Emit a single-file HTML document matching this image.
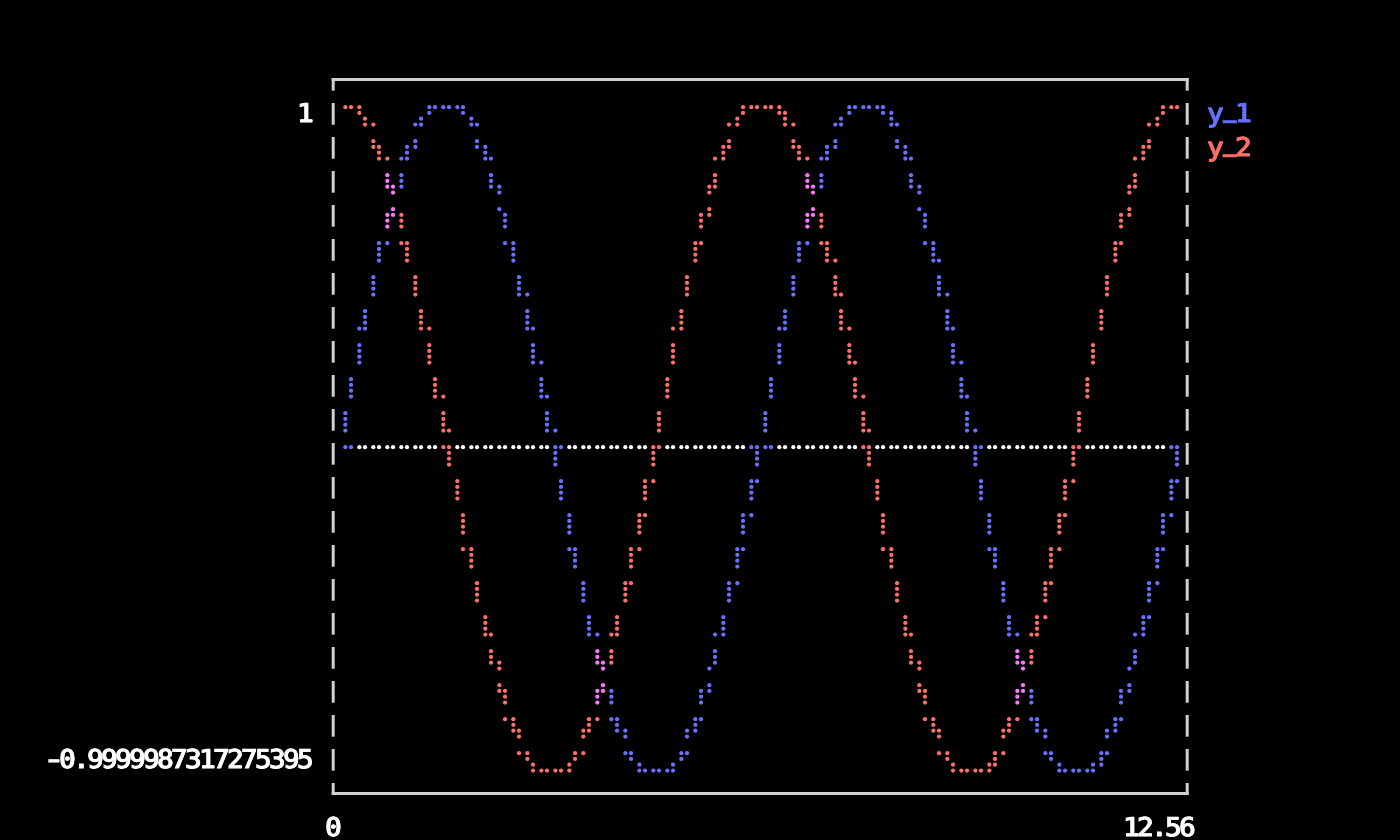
<!DOCTYPE html>
<html lang="en"><head><meta charset="utf-8"><title>plot</title>
<style>
html,body{margin:0;padding:0;background:#000;}
body{width:1400px;height:840px;overflow:hidden;position:relative;}
svg{position:absolute;left:0;top:0;}
.t{position:absolute;white-space:pre;font-family:"DejaVu Sans Mono","Liberation Mono",monospace;font-weight:normal;font-size:25.8px;letter-spacing:-2.3874px;-webkit-text-stroke:1.1px currentColor;text-shadow:0.6px 0 0 currentColor;transform:scale(1.065,1);transform-origin:0 26px;line-height:34px;height:34px;color:#fff;text-rendering:geometricPrecision;}
.u{position:relative;top:-3.6px;left:2px;font-weight:bold;font-size:20.2px;letter-spacing:0.9841px;line-height:0;-webkit-text-stroke:1.2px currentColor;text-shadow:none;}
.h{display:inline-block;transform:translateX(0.55px) scaleX(1.34);transform-origin:7.97px 50%;}
</style></head><body>
<svg width="1400" height="840" viewBox="0 0 1400 840"><g fill="#ffffff"><circle cx="359.35" cy="447.20" r="2.12"/><circle cx="365.02" cy="447.20" r="2.12"/><circle cx="373.35" cy="447.20" r="2.12"/><circle cx="379.02" cy="447.20" r="2.12"/><circle cx="387.35" cy="447.20" r="2.12"/><circle cx="393.02" cy="447.20" r="2.12"/><circle cx="401.35" cy="447.20" r="2.12"/><circle cx="407.02" cy="447.20" r="2.12"/><circle cx="415.35" cy="447.20" r="2.12"/><circle cx="421.02" cy="447.20" r="2.12"/><circle cx="429.35" cy="447.20" r="2.12"/><circle cx="435.02" cy="447.20" r="2.12"/><circle cx="457.35" cy="447.20" r="2.12"/><circle cx="463.02" cy="447.20" r="2.12"/><circle cx="471.35" cy="447.20" r="2.12"/><circle cx="477.02" cy="447.20" r="2.12"/><circle cx="485.35" cy="447.20" r="2.12"/><circle cx="491.02" cy="447.20" r="2.12"/><circle cx="499.35" cy="447.20" r="2.12"/><circle cx="505.02" cy="447.20" r="2.12"/><circle cx="513.35" cy="447.20" r="2.12"/><circle cx="519.02" cy="447.20" r="2.12"/><circle cx="527.35" cy="447.20" r="2.12"/><circle cx="533.02" cy="447.20" r="2.12"/><circle cx="541.35" cy="447.20" r="2.12"/><circle cx="547.02" cy="447.20" r="2.12"/><circle cx="569.35" cy="447.20" r="2.12"/><circle cx="575.02" cy="447.20" r="2.12"/><circle cx="583.35" cy="447.20" r="2.12"/><circle cx="589.02" cy="447.20" r="2.12"/><circle cx="597.35" cy="447.20" r="2.12"/><circle cx="603.02" cy="447.20" r="2.12"/><circle cx="611.35" cy="447.20" r="2.12"/><circle cx="617.02" cy="447.20" r="2.12"/><circle cx="625.35" cy="447.20" r="2.12"/><circle cx="631.02" cy="447.20" r="2.12"/><circle cx="639.35" cy="447.20" r="2.12"/><circle cx="645.02" cy="447.20" r="2.12"/><circle cx="667.35" cy="447.20" r="2.12"/><circle cx="673.02" cy="447.20" r="2.12"/><circle cx="681.35" cy="447.20" r="2.12"/><circle cx="687.02" cy="447.20" r="2.12"/><circle cx="695.35" cy="447.20" r="2.12"/><circle cx="701.02" cy="447.20" r="2.12"/><circle cx="709.35" cy="447.20" r="2.12"/><circle cx="715.02" cy="447.20" r="2.12"/><circle cx="723.35" cy="447.20" r="2.12"/><circle cx="729.02" cy="447.20" r="2.12"/><circle cx="737.35" cy="447.20" r="2.12"/><circle cx="743.02" cy="447.20" r="2.12"/><circle cx="779.35" cy="447.20" r="2.12"/><circle cx="785.02" cy="447.20" r="2.12"/><circle cx="793.35" cy="447.20" r="2.12"/><circle cx="799.02" cy="447.20" r="2.12"/><circle cx="807.35" cy="447.20" r="2.12"/><circle cx="813.02" cy="447.20" r="2.12"/><circle cx="821.35" cy="447.20" r="2.12"/><circle cx="827.02" cy="447.20" r="2.12"/><circle cx="835.35" cy="447.20" r="2.12"/><circle cx="841.02" cy="447.20" r="2.12"/><circle cx="849.35" cy="447.20" r="2.12"/><circle cx="855.02" cy="447.20" r="2.12"/><circle cx="877.35" cy="447.20" r="2.12"/><circle cx="883.02" cy="447.20" r="2.12"/><circle cx="891.35" cy="447.20" r="2.12"/><circle cx="897.02" cy="447.20" r="2.12"/><circle cx="905.35" cy="447.20" r="2.12"/><circle cx="911.02" cy="447.20" r="2.12"/><circle cx="919.35" cy="447.20" r="2.12"/><circle cx="925.02" cy="447.20" r="2.12"/><circle cx="933.35" cy="447.20" r="2.12"/><circle cx="939.02" cy="447.20" r="2.12"/><circle cx="947.35" cy="447.20" r="2.12"/><circle cx="953.02" cy="447.20" r="2.12"/><circle cx="961.35" cy="447.20" r="2.12"/><circle cx="967.02" cy="447.20" r="2.12"/><circle cx="989.35" cy="447.20" r="2.12"/><circle cx="995.02" cy="447.20" r="2.12"/><circle cx="1003.35" cy="447.20" r="2.12"/><circle cx="1009.02" cy="447.20" r="2.12"/><circle cx="1017.35" cy="447.20" r="2.12"/><circle cx="1023.02" cy="447.20" r="2.12"/><circle cx="1031.35" cy="447.20" r="2.12"/><circle cx="1037.02" cy="447.20" r="2.12"/><circle cx="1045.35" cy="447.20" r="2.12"/><circle cx="1051.02" cy="447.20" r="2.12"/><circle cx="1059.35" cy="447.20" r="2.12"/><circle cx="1065.02" cy="447.20" r="2.12"/><circle cx="1087.35" cy="447.20" r="2.12"/><circle cx="1093.02" cy="447.20" r="2.12"/><circle cx="1101.35" cy="447.20" r="2.12"/><circle cx="1107.02" cy="447.20" r="2.12"/><circle cx="1115.35" cy="447.20" r="2.12"/><circle cx="1121.02" cy="447.20" r="2.12"/><circle cx="1129.35" cy="447.20" r="2.12"/><circle cx="1135.02" cy="447.20" r="2.12"/><circle cx="1143.35" cy="447.20" r="2.12"/><circle cx="1149.02" cy="447.20" r="2.12"/><circle cx="1157.35" cy="447.20" r="2.12"/><circle cx="1163.02" cy="447.20" r="2.12"/></g><g fill="#6871ff"><circle cx="415.35" cy="124.51" r="2.12"/><circle cx="421.02" cy="118.74" r="2.12"/><circle cx="421.02" cy="124.51" r="2.12"/><circle cx="429.35" cy="107.20" r="2.12"/><circle cx="429.35" cy="112.97" r="2.12"/><circle cx="435.02" cy="107.20" r="2.12"/><circle cx="443.35" cy="107.20" r="2.12"/><circle cx="449.02" cy="107.20" r="2.12"/><circle cx="457.35" cy="107.20" r="2.12"/><circle cx="463.02" cy="107.20" r="2.12"/><circle cx="463.02" cy="112.97" r="2.12"/><circle cx="471.35" cy="118.74" r="2.12"/><circle cx="471.35" cy="124.51" r="2.12"/><circle cx="477.02" cy="124.51" r="2.12"/><circle cx="835.35" cy="124.51" r="2.12"/><circle cx="841.02" cy="118.74" r="2.12"/><circle cx="841.02" cy="124.51" r="2.12"/><circle cx="849.35" cy="107.20" r="2.12"/><circle cx="849.35" cy="112.97" r="2.12"/><circle cx="855.02" cy="107.20" r="2.12"/><circle cx="863.35" cy="107.20" r="2.12"/><circle cx="869.02" cy="107.20" r="2.12"/><circle cx="877.35" cy="107.20" r="2.12"/><circle cx="883.02" cy="107.20" r="2.12"/><circle cx="883.02" cy="112.97" r="2.12"/><circle cx="891.35" cy="112.97" r="2.12"/><circle cx="891.35" cy="118.74" r="2.12"/><circle cx="891.35" cy="124.51" r="2.12"/><circle cx="897.02" cy="124.51" r="2.12"/><circle cx="401.35" cy="158.51" r="2.12"/><circle cx="407.02" cy="146.97" r="2.12"/><circle cx="407.02" cy="152.74" r="2.12"/><circle cx="407.02" cy="158.51" r="2.12"/><circle cx="415.35" cy="141.20" r="2.12"/><circle cx="415.35" cy="146.97" r="2.12"/><circle cx="477.02" cy="141.20" r="2.12"/><circle cx="477.02" cy="146.97" r="2.12"/><circle cx="485.35" cy="146.97" r="2.12"/><circle cx="485.35" cy="152.74" r="2.12"/><circle cx="485.35" cy="158.51" r="2.12"/><circle cx="491.02" cy="158.51" r="2.12"/><circle cx="821.35" cy="158.51" r="2.12"/><circle cx="827.02" cy="146.97" r="2.12"/><circle cx="827.02" cy="152.74" r="2.12"/><circle cx="827.02" cy="158.51" r="2.12"/><circle cx="835.35" cy="141.20" r="2.12"/><circle cx="835.35" cy="146.97" r="2.12"/><circle cx="897.02" cy="141.20" r="2.12"/><circle cx="897.02" cy="146.97" r="2.12"/><circle cx="905.35" cy="146.97" r="2.12"/><circle cx="905.35" cy="152.74" r="2.12"/><circle cx="905.35" cy="158.51" r="2.12"/><circle cx="911.02" cy="158.51" r="2.12"/><circle cx="401.35" cy="175.20" r="2.12"/><circle cx="401.35" cy="180.97" r="2.12"/><circle cx="401.35" cy="186.74" r="2.12"/><circle cx="491.02" cy="175.20" r="2.12"/><circle cx="491.02" cy="180.97" r="2.12"/><circle cx="491.02" cy="186.74" r="2.12"/><circle cx="499.35" cy="186.74" r="2.12"/><circle cx="499.35" cy="192.51" r="2.12"/><circle cx="821.35" cy="175.20" r="2.12"/><circle cx="821.35" cy="180.97" r="2.12"/><circle cx="821.35" cy="186.74" r="2.12"/><circle cx="911.02" cy="175.20" r="2.12"/><circle cx="911.02" cy="180.97" r="2.12"/><circle cx="911.02" cy="186.74" r="2.12"/><circle cx="919.35" cy="186.74" r="2.12"/><circle cx="919.35" cy="192.51" r="2.12"/><circle cx="499.35" cy="209.20" r="2.12"/><circle cx="505.02" cy="214.97" r="2.12"/><circle cx="505.02" cy="220.74" r="2.12"/><circle cx="505.02" cy="226.51" r="2.12"/><circle cx="919.35" cy="209.20" r="2.12"/><circle cx="925.02" cy="214.97" r="2.12"/><circle cx="925.02" cy="220.74" r="2.12"/><circle cx="925.02" cy="226.51" r="2.12"/><circle cx="379.02" cy="243.20" r="2.12"/><circle cx="379.02" cy="248.97" r="2.12"/><circle cx="379.02" cy="254.74" r="2.12"/><circle cx="379.02" cy="260.51" r="2.12"/><circle cx="387.35" cy="243.20" r="2.12"/><circle cx="505.02" cy="243.20" r="2.12"/><circle cx="513.35" cy="243.20" r="2.12"/><circle cx="513.35" cy="248.97" r="2.12"/><circle cx="513.35" cy="254.74" r="2.12"/><circle cx="513.35" cy="260.51" r="2.12"/><circle cx="799.02" cy="243.20" r="2.12"/><circle cx="799.02" cy="248.97" r="2.12"/><circle cx="799.02" cy="254.74" r="2.12"/><circle cx="799.02" cy="260.51" r="2.12"/><circle cx="807.35" cy="243.20" r="2.12"/><circle cx="925.02" cy="243.20" r="2.12"/><circle cx="933.35" cy="243.20" r="2.12"/><circle cx="933.35" cy="248.97" r="2.12"/><circle cx="933.35" cy="254.74" r="2.12"/><circle cx="933.35" cy="260.51" r="2.12"/><circle cx="939.02" cy="260.51" r="2.12"/><circle cx="373.35" cy="277.20" r="2.12"/><circle cx="373.35" cy="282.97" r="2.12"/><circle cx="373.35" cy="288.74" r="2.12"/><circle cx="373.35" cy="294.51" r="2.12"/><circle cx="519.02" cy="277.20" r="2.12"/><circle cx="519.02" cy="282.97" r="2.12"/><circle cx="519.02" cy="288.74" r="2.12"/><circle cx="519.02" cy="294.51" r="2.12"/><circle cx="527.35" cy="294.51" r="2.12"/><circle cx="793.35" cy="277.20" r="2.12"/><circle cx="793.35" cy="282.97" r="2.12"/><circle cx="793.35" cy="288.74" r="2.12"/><circle cx="793.35" cy="294.51" r="2.12"/><circle cx="939.02" cy="277.20" r="2.12"/><circle cx="939.02" cy="282.97" r="2.12"/><circle cx="939.02" cy="288.74" r="2.12"/><circle cx="939.02" cy="294.51" r="2.12"/><circle cx="947.35" cy="294.51" r="2.12"/><circle cx="359.35" cy="328.51" r="2.12"/><circle cx="365.02" cy="311.20" r="2.12"/><circle cx="365.02" cy="316.97" r="2.12"/><circle cx="365.02" cy="322.74" r="2.12"/><circle cx="365.02" cy="328.51" r="2.12"/><circle cx="527.35" cy="311.20" r="2.12"/><circle cx="527.35" cy="316.97" r="2.12"/><circle cx="527.35" cy="322.74" r="2.12"/><circle cx="527.35" cy="328.51" r="2.12"/><circle cx="533.02" cy="328.51" r="2.12"/><circle cx="779.35" cy="328.51" r="2.12"/><circle cx="785.02" cy="311.20" r="2.12"/><circle cx="785.02" cy="316.97" r="2.12"/><circle cx="785.02" cy="322.74" r="2.12"/><circle cx="785.02" cy="328.51" r="2.12"/><circle cx="947.35" cy="311.20" r="2.12"/><circle cx="947.35" cy="316.97" r="2.12"/><circle cx="947.35" cy="322.74" r="2.12"/><circle cx="947.35" cy="328.51" r="2.12"/><circle cx="953.02" cy="328.51" r="2.12"/><circle cx="359.35" cy="345.20" r="2.12"/><circle cx="359.35" cy="350.97" r="2.12"/><circle cx="359.35" cy="356.74" r="2.12"/><circle cx="359.35" cy="362.51" r="2.12"/><circle cx="533.02" cy="345.20" r="2.12"/><circle cx="533.02" cy="350.97" r="2.12"/><circle cx="533.02" cy="356.74" r="2.12"/><circle cx="533.02" cy="362.51" r="2.12"/><circle cx="541.35" cy="362.51" r="2.12"/><circle cx="779.35" cy="345.20" r="2.12"/><circle cx="779.35" cy="350.97" r="2.12"/><circle cx="779.35" cy="356.74" r="2.12"/><circle cx="779.35" cy="362.51" r="2.12"/><circle cx="953.02" cy="345.20" r="2.12"/><circle cx="953.02" cy="350.97" r="2.12"/><circle cx="953.02" cy="356.74" r="2.12"/><circle cx="953.02" cy="362.51" r="2.12"/><circle cx="961.35" cy="362.51" r="2.12"/><circle cx="351.02" cy="379.20" r="2.12"/><circle cx="351.02" cy="384.97" r="2.12"/><circle cx="351.02" cy="390.74" r="2.12"/><circle cx="351.02" cy="396.51" r="2.12"/><circle cx="541.35" cy="379.20" r="2.12"/><circle cx="541.35" cy="384.97" r="2.12"/><circle cx="541.35" cy="390.74" r="2.12"/><circle cx="541.35" cy="396.51" r="2.12"/><circle cx="547.02" cy="396.51" r="2.12"/><circle cx="771.02" cy="379.20" r="2.12"/><circle cx="771.02" cy="384.97" r="2.12"/><circle cx="771.02" cy="390.74" r="2.12"/><circle cx="771.02" cy="396.51" r="2.12"/><circle cx="961.35" cy="379.20" r="2.12"/><circle cx="961.35" cy="384.97" r="2.12"/><circle cx="961.35" cy="390.74" r="2.12"/><circle cx="961.35" cy="396.51" r="2.12"/><circle cx="967.02" cy="396.51" r="2.12"/><circle cx="345.35" cy="413.20" r="2.12"/><circle cx="345.35" cy="418.97" r="2.12"/><circle cx="345.35" cy="424.74" r="2.12"/><circle cx="345.35" cy="430.51" r="2.12"/><circle cx="547.02" cy="413.20" r="2.12"/><circle cx="547.02" cy="418.97" r="2.12"/><circle cx="547.02" cy="424.74" r="2.12"/><circle cx="547.02" cy="430.51" r="2.12"/><circle cx="555.35" cy="430.51" r="2.12"/><circle cx="765.35" cy="413.20" r="2.12"/><circle cx="765.35" cy="418.97" r="2.12"/><circle cx="765.35" cy="424.74" r="2.12"/><circle cx="765.35" cy="430.51" r="2.12"/><circle cx="967.02" cy="413.20" r="2.12"/><circle cx="967.02" cy="418.97" r="2.12"/><circle cx="967.02" cy="424.74" r="2.12"/><circle cx="967.02" cy="430.51" r="2.12"/><circle cx="975.35" cy="430.51" r="2.12"/><circle cx="345.35" cy="447.20" r="2.12"/><circle cx="351.02" cy="447.20" r="2.12"/><circle cx="555.35" cy="447.20" r="2.12"/><circle cx="555.35" cy="452.97" r="2.12"/><circle cx="555.35" cy="458.74" r="2.12"/><circle cx="555.35" cy="464.51" r="2.12"/><circle cx="561.02" cy="447.20" r="2.12"/><circle cx="751.35" cy="447.20" r="2.12"/><circle cx="757.02" cy="447.20" r="2.12"/><circle cx="757.02" cy="452.97" r="2.12"/><circle cx="757.02" cy="458.74" r="2.12"/><circle cx="757.02" cy="464.51" r="2.12"/><circle cx="765.35" cy="447.20" r="2.12"/><circle cx="771.02" cy="447.20" r="2.12"/><circle cx="975.35" cy="447.20" r="2.12"/><circle cx="975.35" cy="452.97" r="2.12"/><circle cx="975.35" cy="458.74" r="2.12"/><circle cx="975.35" cy="464.51" r="2.12"/><circle cx="981.02" cy="447.20" r="2.12"/><circle cx="1171.35" cy="447.20" r="2.12"/><circle cx="1177.02" cy="447.20" r="2.12"/><circle cx="1177.02" cy="452.97" r="2.12"/><circle cx="1177.02" cy="458.74" r="2.12"/><circle cx="1177.02" cy="464.51" r="2.12"/><circle cx="561.02" cy="481.20" r="2.12"/><circle cx="561.02" cy="486.97" r="2.12"/><circle cx="561.02" cy="492.74" r="2.12"/><circle cx="561.02" cy="498.51" r="2.12"/><circle cx="751.35" cy="481.20" r="2.12"/><circle cx="751.35" cy="486.97" r="2.12"/><circle cx="751.35" cy="492.74" r="2.12"/><circle cx="751.35" cy="498.51" r="2.12"/><circle cx="757.02" cy="481.20" r="2.12"/><circle cx="981.02" cy="481.20" r="2.12"/><circle cx="981.02" cy="486.97" r="2.12"/><circle cx="981.02" cy="492.74" r="2.12"/><circle cx="981.02" cy="498.51" r="2.12"/><circle cx="1171.35" cy="481.20" r="2.12"/><circle cx="1171.35" cy="486.97" r="2.12"/><circle cx="1171.35" cy="492.74" r="2.12"/><circle cx="1171.35" cy="498.51" r="2.12"/><circle cx="1177.02" cy="481.20" r="2.12"/><circle cx="569.35" cy="515.20" r="2.12"/><circle cx="569.35" cy="520.97" r="2.12"/><circle cx="569.35" cy="526.74" r="2.12"/><circle cx="569.35" cy="532.51" r="2.12"/><circle cx="743.02" cy="515.20" r="2.12"/><circle cx="743.02" cy="520.97" r="2.12"/><circle cx="743.02" cy="526.74" r="2.12"/><circle cx="743.02" cy="532.51" r="2.12"/><circle cx="751.35" cy="515.20" r="2.12"/><circle cx="989.35" cy="515.20" r="2.12"/><circle cx="989.35" cy="520.97" r="2.12"/><circle cx="989.35" cy="526.74" r="2.12"/><circle cx="989.35" cy="532.51" r="2.12"/><circle cx="1163.02" cy="515.20" r="2.12"/><circle cx="1163.02" cy="520.97" r="2.12"/><circle cx="1163.02" cy="526.74" r="2.12"/><circle cx="1163.02" cy="532.51" r="2.12"/><circle cx="1171.35" cy="515.20" r="2.12"/><circle cx="569.35" cy="549.20" r="2.12"/><circle cx="575.02" cy="549.20" r="2.12"/><circle cx="575.02" cy="554.97" r="2.12"/><circle cx="575.02" cy="560.74" r="2.12"/><circle cx="575.02" cy="566.51" r="2.12"/><circle cx="737.35" cy="549.20" r="2.12"/><circle cx="737.35" cy="554.97" r="2.12"/><circle cx="737.35" cy="560.74" r="2.12"/><circle cx="737.35" cy="566.51" r="2.12"/><circle cx="743.02" cy="549.20" r="2.12"/><circle cx="989.35" cy="549.20" r="2.12"/><circle cx="995.02" cy="549.20" r="2.12"/><circle cx="995.02" cy="554.97" r="2.12"/><circle cx="995.02" cy="560.74" r="2.12"/><circle cx="995.02" cy="566.51" r="2.12"/><circle cx="1157.35" cy="549.20" r="2.12"/><circle cx="1157.35" cy="554.97" r="2.12"/><circle cx="1157.35" cy="560.74" r="2.12"/><circle cx="1157.35" cy="566.51" r="2.12"/><circle cx="1163.02" cy="549.20" r="2.12"/><circle cx="583.35" cy="583.20" r="2.12"/><circle cx="583.35" cy="588.97" r="2.12"/><circle cx="583.35" cy="594.74" r="2.12"/><circle cx="583.35" cy="600.51" r="2.12"/><circle cx="729.02" cy="583.20" r="2.12"/><circle cx="729.02" cy="588.97" r="2.12"/><circle cx="729.02" cy="594.74" r="2.12"/><circle cx="729.02" cy="600.51" r="2.12"/><circle cx="737.35" cy="583.20" r="2.12"/><circle cx="1003.35" cy="583.20" r="2.12"/><circle cx="1003.35" cy="588.97" r="2.12"/><circle cx="1003.35" cy="594.74" r="2.12"/><circle cx="1003.35" cy="600.51" r="2.12"/><circle cx="1149.02" cy="583.20" r="2.12"/><circle cx="1149.02" cy="588.97" r="2.12"/><circle cx="1149.02" cy="594.74" r="2.12"/><circle cx="1149.02" cy="600.51" r="2.12"/><circle cx="1157.35" cy="583.20" r="2.12"/><circle cx="589.02" cy="617.20" r="2.12"/><circle cx="589.02" cy="622.97" r="2.12"/><circle cx="589.02" cy="628.74" r="2.12"/><circle cx="589.02" cy="634.51" r="2.12"/><circle cx="597.35" cy="634.51" r="2.12"/><circle cx="715.02" cy="634.51" r="2.12"/><circle cx="723.35" cy="617.20" r="2.12"/><circle cx="723.35" cy="622.97" r="2.12"/><circle cx="723.35" cy="628.74" r="2.12"/><circle cx="723.35" cy="634.51" r="2.12"/><circle cx="1009.02" cy="617.20" r="2.12"/><circle cx="1009.02" cy="622.97" r="2.12"/><circle cx="1009.02" cy="628.74" r="2.12"/><circle cx="1009.02" cy="634.51" r="2.12"/><circle cx="1017.35" cy="634.51" r="2.12"/><circle cx="1135.02" cy="634.51" r="2.12"/><circle cx="1143.35" cy="617.20" r="2.12"/><circle cx="1143.35" cy="622.97" r="2.12"/><circle cx="1143.35" cy="628.74" r="2.12"/><circle cx="1143.35" cy="634.51" r="2.12"/><circle cx="1149.02" cy="617.20" r="2.12"/><circle cx="709.35" cy="668.51" r="2.12"/><circle cx="715.02" cy="651.20" r="2.12"/><circle cx="715.02" cy="656.97" r="2.12"/><circle cx="715.02" cy="662.74" r="2.12"/><circle cx="1129.35" cy="668.51" r="2.12"/><circle cx="1135.02" cy="651.20" r="2.12"/><circle cx="1135.02" cy="656.97" r="2.12"/><circle cx="1135.02" cy="662.74" r="2.12"/><circle cx="611.35" cy="690.97" r="2.12"/><circle cx="611.35" cy="696.74" r="2.12"/><circle cx="611.35" cy="702.51" r="2.12"/><circle cx="701.02" cy="690.97" r="2.12"/><circle cx="701.02" cy="696.74" r="2.12"/><circle cx="701.02" cy="702.51" r="2.12"/><circle cx="709.35" cy="685.20" r="2.12"/><circle cx="709.35" cy="690.97" r="2.12"/><circle cx="1031.35" cy="690.97" r="2.12"/><circle cx="1031.35" cy="696.74" r="2.12"/><circle cx="1031.35" cy="702.51" r="2.12"/><circle cx="1121.02" cy="690.97" r="2.12"/><circle cx="1121.02" cy="696.74" r="2.12"/><circle cx="1121.02" cy="702.51" r="2.12"/><circle cx="1129.35" cy="685.20" r="2.12"/><circle cx="1129.35" cy="690.97" r="2.12"/><circle cx="611.35" cy="719.20" r="2.12"/><circle cx="617.02" cy="719.20" r="2.12"/><circle cx="617.02" cy="724.97" r="2.12"/><circle cx="617.02" cy="730.74" r="2.12"/><circle cx="625.35" cy="730.74" r="2.12"/><circle cx="625.35" cy="736.51" r="2.12"/><circle cx="687.02" cy="730.74" r="2.12"/><circle cx="687.02" cy="736.51" r="2.12"/><circle cx="695.35" cy="719.20" r="2.12"/><circle cx="695.35" cy="724.97" r="2.12"/><circle cx="695.35" cy="730.74" r="2.12"/><circle cx="701.02" cy="719.20" r="2.12"/><circle cx="1031.35" cy="719.20" r="2.12"/><circle cx="1037.02" cy="719.20" r="2.12"/><circle cx="1037.02" cy="724.97" r="2.12"/><circle cx="1037.02" cy="730.74" r="2.12"/><circle cx="1045.35" cy="730.74" r="2.12"/><circle cx="1045.35" cy="736.51" r="2.12"/><circle cx="1107.02" cy="730.74" r="2.12"/><circle cx="1107.02" cy="736.51" r="2.12"/><circle cx="1115.35" cy="719.20" r="2.12"/><circle cx="1115.35" cy="724.97" r="2.12"/><circle cx="1115.35" cy="730.74" r="2.12"/><circle cx="1121.02" cy="719.20" r="2.12"/><circle cx="625.35" cy="753.20" r="2.12"/><circle cx="631.02" cy="753.20" r="2.12"/><circle cx="631.02" cy="758.97" r="2.12"/><circle cx="639.35" cy="764.74" r="2.12"/><circle cx="639.35" cy="770.51" r="2.12"/><circle cx="645.02" cy="770.51" r="2.12"/><circle cx="653.35" cy="770.51" r="2.12"/><circle cx="659.02" cy="770.51" r="2.12"/><circle cx="667.35" cy="770.51" r="2.12"/><circle cx="673.02" cy="764.74" r="2.12"/><circle cx="673.02" cy="770.51" r="2.12"/><circle cx="681.35" cy="753.20" r="2.12"/><circle cx="681.35" cy="758.97" r="2.12"/><circle cx="687.02" cy="753.20" r="2.12"/><circle cx="1045.35" cy="753.20" r="2.12"/><circle cx="1051.02" cy="753.20" r="2.12"/><circle cx="1051.02" cy="758.97" r="2.12"/><circle cx="1059.35" cy="764.74" r="2.12"/><circle cx="1059.35" cy="770.51" r="2.12"/><circle cx="1065.02" cy="770.51" r="2.12"/><circle cx="1073.35" cy="770.51" r="2.12"/><circle cx="1079.02" cy="770.51" r="2.12"/><circle cx="1087.35" cy="770.51" r="2.12"/><circle cx="1093.02" cy="764.74" r="2.12"/><circle cx="1093.02" cy="770.51" r="2.12"/><circle cx="1101.35" cy="753.20" r="2.12"/><circle cx="1101.35" cy="758.97" r="2.12"/><circle cx="1101.35" cy="764.74" r="2.12"/><circle cx="1107.02" cy="753.20" r="2.12"/></g><g fill="#ff6e67"><circle cx="345.35" cy="107.20" r="2.12"/><circle cx="351.02" cy="107.20" r="2.12"/><circle cx="359.35" cy="107.20" r="2.12"/><circle cx="359.35" cy="112.97" r="2.12"/><circle cx="365.02" cy="118.74" r="2.12"/><circle cx="365.02" cy="124.51" r="2.12"/><circle cx="373.35" cy="124.51" r="2.12"/><circle cx="729.02" cy="124.51" r="2.12"/><circle cx="737.35" cy="118.74" r="2.12"/><circle cx="737.35" cy="124.51" r="2.12"/><circle cx="743.02" cy="107.20" r="2.12"/><circle cx="743.02" cy="112.97" r="2.12"/><circle cx="751.35" cy="107.20" r="2.12"/><circle cx="757.02" cy="107.20" r="2.12"/><circle cx="765.35" cy="107.20" r="2.12"/><circle cx="771.02" cy="107.20" r="2.12"/><circle cx="779.35" cy="107.20" r="2.12"/><circle cx="779.35" cy="112.97" r="2.12"/><circle cx="785.02" cy="112.97" r="2.12"/><circle cx="785.02" cy="118.74" r="2.12"/><circle cx="785.02" cy="124.51" r="2.12"/><circle cx="793.35" cy="124.51" r="2.12"/><circle cx="1149.02" cy="124.51" r="2.12"/><circle cx="1157.35" cy="118.74" r="2.12"/><circle cx="1157.35" cy="124.51" r="2.12"/><circle cx="1163.02" cy="107.20" r="2.12"/><circle cx="1163.02" cy="112.97" r="2.12"/><circle cx="1171.35" cy="107.20" r="2.12"/><circle cx="1177.02" cy="107.20" r="2.12"/><circle cx="373.35" cy="141.20" r="2.12"/><circle cx="373.35" cy="146.97" r="2.12"/><circle cx="379.02" cy="146.97" r="2.12"/><circle cx="379.02" cy="152.74" r="2.12"/><circle cx="379.02" cy="158.51" r="2.12"/><circle cx="387.35" cy="158.51" r="2.12"/><circle cx="715.02" cy="158.51" r="2.12"/><circle cx="723.35" cy="146.97" r="2.12"/><circle cx="723.35" cy="152.74" r="2.12"/><circle cx="723.35" cy="158.51" r="2.12"/><circle cx="729.02" cy="141.20" r="2.12"/><circle cx="729.02" cy="146.97" r="2.12"/><circle cx="793.35" cy="141.20" r="2.12"/><circle cx="793.35" cy="146.97" r="2.12"/><circle cx="799.02" cy="146.97" r="2.12"/><circle cx="799.02" cy="152.74" r="2.12"/><circle cx="799.02" cy="158.51" r="2.12"/><circle cx="807.35" cy="158.51" r="2.12"/><circle cx="1135.02" cy="158.51" r="2.12"/><circle cx="1143.35" cy="146.97" r="2.12"/><circle cx="1143.35" cy="152.74" r="2.12"/><circle cx="1143.35" cy="158.51" r="2.12"/><circle cx="1149.02" cy="141.20" r="2.12"/><circle cx="1149.02" cy="146.97" r="2.12"/><circle cx="709.35" cy="186.74" r="2.12"/><circle cx="709.35" cy="192.51" r="2.12"/><circle cx="715.02" cy="175.20" r="2.12"/><circle cx="715.02" cy="180.97" r="2.12"/><circle cx="715.02" cy="186.74" r="2.12"/><circle cx="1129.35" cy="186.74" r="2.12"/><circle cx="1129.35" cy="192.51" r="2.12"/><circle cx="1135.02" cy="175.20" r="2.12"/><circle cx="1135.02" cy="180.97" r="2.12"/><circle cx="1135.02" cy="186.74" r="2.12"/><circle cx="401.35" cy="214.97" r="2.12"/><circle cx="401.35" cy="220.74" r="2.12"/><circle cx="401.35" cy="226.51" r="2.12"/><circle cx="701.02" cy="214.97" r="2.12"/><circle cx="701.02" cy="220.74" r="2.12"/><circle cx="701.02" cy="226.51" r="2.12"/><circle cx="709.35" cy="209.20" r="2.12"/><circle cx="709.35" cy="214.97" r="2.12"/><circle cx="821.35" cy="214.97" r="2.12"/><circle cx="821.35" cy="220.74" r="2.12"/><circle cx="821.35" cy="226.51" r="2.12"/><circle cx="1121.02" cy="214.97" r="2.12"/><circle cx="1121.02" cy="220.74" r="2.12"/><circle cx="1121.02" cy="226.51" r="2.12"/><circle cx="1129.35" cy="209.20" r="2.12"/><circle cx="1129.35" cy="214.97" r="2.12"/><circle cx="401.35" cy="243.20" r="2.12"/><circle cx="407.02" cy="243.20" r="2.12"/><circle cx="407.02" cy="248.97" r="2.12"/><circle cx="407.02" cy="254.74" r="2.12"/><circle cx="407.02" cy="260.51" r="2.12"/><circle cx="695.35" cy="243.20" r="2.12"/><circle cx="695.35" cy="248.97" r="2.12"/><circle cx="695.35" cy="254.74" r="2.12"/><circle cx="695.35" cy="260.51" r="2.12"/><circle cx="701.02" cy="243.20" r="2.12"/><circle cx="821.35" cy="243.20" r="2.12"/><circle cx="827.02" cy="243.20" r="2.12"/><circle cx="827.02" cy="248.97" r="2.12"/><circle cx="827.02" cy="254.74" r="2.12"/><circle cx="827.02" cy="260.51" r="2.12"/><circle cx="835.35" cy="260.51" r="2.12"/><circle cx="1115.35" cy="243.20" r="2.12"/><circle cx="1115.35" cy="248.97" r="2.12"/><circle cx="1115.35" cy="254.74" r="2.12"/><circle cx="1115.35" cy="260.51" r="2.12"/><circle cx="1121.02" cy="243.20" r="2.12"/><circle cx="415.35" cy="277.20" r="2.12"/><circle cx="415.35" cy="282.97" r="2.12"/><circle cx="415.35" cy="288.74" r="2.12"/><circle cx="415.35" cy="294.51" r="2.12"/><circle cx="687.02" cy="277.20" r="2.12"/><circle cx="687.02" cy="282.97" r="2.12"/><circle cx="687.02" cy="288.74" r="2.12"/><circle cx="687.02" cy="294.51" r="2.12"/><circle cx="835.35" cy="277.20" r="2.12"/><circle cx="835.35" cy="282.97" r="2.12"/><circle cx="835.35" cy="288.74" r="2.12"/><circle cx="835.35" cy="294.51" r="2.12"/><circle cx="841.02" cy="294.51" r="2.12"/><circle cx="1107.02" cy="277.20" r="2.12"/><circle cx="1107.02" cy="282.97" r="2.12"/><circle cx="1107.02" cy="288.74" r="2.12"/><circle cx="1107.02" cy="294.51" r="2.12"/><circle cx="421.02" cy="311.20" r="2.12"/><circle cx="421.02" cy="316.97" r="2.12"/><circle cx="421.02" cy="322.74" r="2.12"/><circle cx="421.02" cy="328.51" r="2.12"/><circle cx="429.35" cy="328.51" r="2.12"/><circle cx="673.02" cy="328.51" r="2.12"/><circle cx="681.35" cy="311.20" r="2.12"/><circle cx="681.35" cy="316.97" r="2.12"/><circle cx="681.35" cy="322.74" r="2.12"/><circle cx="681.35" cy="328.51" r="2.12"/><circle cx="841.02" cy="311.20" r="2.12"/><circle cx="841.02" cy="316.97" r="2.12"/><circle cx="841.02" cy="322.74" r="2.12"/><circle cx="841.02" cy="328.51" r="2.12"/><circle cx="849.35" cy="328.51" r="2.12"/><circle cx="1101.35" cy="311.20" r="2.12"/><circle cx="1101.35" cy="316.97" r="2.12"/><circle cx="1101.35" cy="322.74" r="2.12"/><circle cx="1101.35" cy="328.51" r="2.12"/><circle cx="429.35" cy="345.20" r="2.12"/><circle cx="429.35" cy="350.97" r="2.12"/><circle cx="429.35" cy="356.74" r="2.12"/><circle cx="429.35" cy="362.51" r="2.12"/><circle cx="673.02" cy="345.20" r="2.12"/><circle cx="673.02" cy="350.97" r="2.12"/><circle cx="673.02" cy="356.74" r="2.12"/><circle cx="673.02" cy="362.51" r="2.12"/><circle cx="849.35" cy="345.20" r="2.12"/><circle cx="849.35" cy="350.97" r="2.12"/><circle cx="849.35" cy="356.74" r="2.12"/><circle cx="849.35" cy="362.51" r="2.12"/><circle cx="855.02" cy="362.51" r="2.12"/><circle cx="1093.02" cy="345.20" r="2.12"/><circle cx="1093.02" cy="350.97" r="2.12"/><circle cx="1093.02" cy="356.74" r="2.12"/><circle cx="1093.02" cy="362.51" r="2.12"/><circle cx="435.02" cy="379.20" r="2.12"/><circle cx="435.02" cy="384.97" r="2.12"/><circle cx="435.02" cy="390.74" r="2.12"/><circle cx="435.02" cy="396.51" r="2.12"/><circle cx="443.35" cy="396.51" r="2.12"/><circle cx="667.35" cy="379.20" r="2.12"/><circle cx="667.35" cy="384.97" r="2.12"/><circle cx="667.35" cy="390.74" r="2.12"/><circle cx="667.35" cy="396.51" r="2.12"/><circle cx="855.02" cy="379.20" r="2.12"/><circle cx="855.02" cy="384.97" r="2.12"/><circle cx="855.02" cy="390.74" r="2.12"/><circle cx="855.02" cy="396.51" r="2.12"/><circle cx="863.35" cy="396.51" r="2.12"/><circle cx="1087.35" cy="379.20" r="2.12"/><circle cx="1087.35" cy="384.97" r="2.12"/><circle cx="1087.35" cy="390.74" r="2.12"/><circle cx="1087.35" cy="396.51" r="2.12"/><circle cx="443.35" cy="413.20" r="2.12"/><circle cx="443.35" cy="418.97" r="2.12"/><circle cx="443.35" cy="424.74" r="2.12"/><circle cx="443.35" cy="430.51" r="2.12"/><circle cx="449.02" cy="430.51" r="2.12"/><circle cx="659.02" cy="413.20" r="2.12"/><circle cx="659.02" cy="418.97" r="2.12"/><circle cx="659.02" cy="424.74" r="2.12"/><circle cx="659.02" cy="430.51" r="2.12"/><circle cx="863.35" cy="413.20" r="2.12"/><circle cx="863.35" cy="418.97" r="2.12"/><circle cx="863.35" cy="424.74" r="2.12"/><circle cx="863.35" cy="430.51" r="2.12"/><circle cx="869.02" cy="430.51" r="2.12"/><circle cx="1079.02" cy="413.20" r="2.12"/><circle cx="1079.02" cy="418.97" r="2.12"/><circle cx="1079.02" cy="424.74" r="2.12"/><circle cx="1079.02" cy="430.51" r="2.12"/><circle cx="443.35" cy="447.20" r="2.12"/><circle cx="449.02" cy="447.20" r="2.12"/><circle cx="449.02" cy="452.97" r="2.12"/><circle cx="449.02" cy="458.74" r="2.12"/><circle cx="449.02" cy="464.51" r="2.12"/><circle cx="653.35" cy="447.20" r="2.12"/><circle cx="653.35" cy="452.97" r="2.12"/><circle cx="653.35" cy="458.74" r="2.12"/><circle cx="653.35" cy="464.51" r="2.12"/><circle cx="659.02" cy="447.20" r="2.12"/><circle cx="863.35" cy="447.20" r="2.12"/><circle cx="869.02" cy="447.20" r="2.12"/><circle cx="869.02" cy="452.97" r="2.12"/><circle cx="869.02" cy="458.74" r="2.12"/><circle cx="869.02" cy="464.51" r="2.12"/><circle cx="1073.35" cy="447.20" r="2.12"/><circle cx="1073.35" cy="452.97" r="2.12"/><circle cx="1073.35" cy="458.74" r="2.12"/><circle cx="1073.35" cy="464.51" r="2.12"/><circle cx="1079.02" cy="447.20" r="2.12"/><circle cx="457.35" cy="481.20" r="2.12"/><circle cx="457.35" cy="486.97" r="2.12"/><circle cx="457.35" cy="492.74" r="2.12"/><circle cx="457.35" cy="498.51" r="2.12"/><circle cx="645.02" cy="481.20" r="2.12"/><circle cx="645.02" cy="486.97" r="2.12"/><circle cx="645.02" cy="492.74" r="2.12"/><circle cx="645.02" cy="498.51" r="2.12"/><circle cx="653.35" cy="481.20" r="2.12"/><circle cx="877.35" cy="481.20" r="2.12"/><circle cx="877.35" cy="486.97" r="2.12"/><circle cx="877.35" cy="492.74" r="2.12"/><circle cx="877.35" cy="498.51" r="2.12"/><circle cx="1065.02" cy="481.20" r="2.12"/><circle cx="1065.02" cy="486.97" r="2.12"/><circle cx="1065.02" cy="492.74" r="2.12"/><circle cx="1065.02" cy="498.51" r="2.12"/><circle cx="1073.35" cy="481.20" r="2.12"/><circle cx="463.02" cy="515.20" r="2.12"/><circle cx="463.02" cy="520.97" r="2.12"/><circle cx="463.02" cy="526.74" r="2.12"/><circle cx="463.02" cy="532.51" r="2.12"/><circle cx="639.35" cy="515.20" r="2.12"/><circle cx="639.35" cy="520.97" r="2.12"/><circle cx="639.35" cy="526.74" r="2.12"/><circle cx="639.35" cy="532.51" r="2.12"/><circle cx="645.02" cy="515.20" r="2.12"/><circle cx="883.02" cy="515.20" r="2.12"/><circle cx="883.02" cy="520.97" r="2.12"/><circle cx="883.02" cy="526.74" r="2.12"/><circle cx="883.02" cy="532.51" r="2.12"/><circle cx="1059.35" cy="515.20" r="2.12"/><circle cx="1059.35" cy="520.97" r="2.12"/><circle cx="1059.35" cy="526.74" r="2.12"/><circle cx="1059.35" cy="532.51" r="2.12"/><circle cx="1065.02" cy="515.20" r="2.12"/><circle cx="463.02" cy="549.20" r="2.12"/><circle cx="471.35" cy="549.20" r="2.12"/><circle cx="471.35" cy="554.97" r="2.12"/><circle cx="471.35" cy="560.74" r="2.12"/><circle cx="471.35" cy="566.51" r="2.12"/><circle cx="631.02" cy="549.20" r="2.12"/><circle cx="631.02" cy="554.97" r="2.12"/><circle cx="631.02" cy="560.74" r="2.12"/><circle cx="631.02" cy="566.51" r="2.12"/><circle cx="639.35" cy="549.20" r="2.12"/><circle cx="883.02" cy="549.20" r="2.12"/><circle cx="891.35" cy="549.20" r="2.12"/><circle cx="891.35" cy="554.97" r="2.12"/><circle cx="891.35" cy="560.74" r="2.12"/><circle cx="891.35" cy="566.51" r="2.12"/><circle cx="1051.02" cy="549.20" r="2.12"/><circle cx="1051.02" cy="554.97" r="2.12"/><circle cx="1051.02" cy="560.74" r="2.12"/><circle cx="1051.02" cy="566.51" r="2.12"/><circle cx="1059.35" cy="549.20" r="2.12"/><circle cx="477.02" cy="583.20" r="2.12"/><circle cx="477.02" cy="588.97" r="2.12"/><circle cx="477.02" cy="594.74" r="2.12"/><circle cx="477.02" cy="600.51" r="2.12"/><circle cx="625.35" cy="583.20" r="2.12"/><circle cx="625.35" cy="588.97" r="2.12"/><circle cx="625.35" cy="594.74" r="2.12"/><circle cx="625.35" cy="600.51" r="2.12"/><circle cx="631.02" cy="583.20" r="2.12"/><circle cx="897.02" cy="583.20" r="2.12"/><circle cx="897.02" cy="588.97" r="2.12"/><circle cx="897.02" cy="594.74" r="2.12"/><circle cx="897.02" cy="600.51" r="2.12"/><circle cx="1045.35" cy="583.20" r="2.12"/><circle cx="1045.35" cy="588.97" r="2.12"/><circle cx="1045.35" cy="594.74" r="2.12"/><circle cx="1045.35" cy="600.51" r="2.12"/><circle cx="1051.02" cy="583.20" r="2.12"/><circle cx="485.35" cy="617.20" r="2.12"/><circle cx="485.35" cy="622.97" r="2.12"/><circle cx="485.35" cy="628.74" r="2.12"/><circle cx="485.35" cy="634.51" r="2.12"/><circle cx="491.02" cy="634.51" r="2.12"/><circle cx="611.35" cy="634.51" r="2.12"/><circle cx="617.02" cy="617.20" r="2.12"/><circle cx="617.02" cy="622.97" r="2.12"/><circle cx="617.02" cy="628.74" r="2.12"/><circle cx="617.02" cy="634.51" r="2.12"/><circle cx="905.35" cy="617.20" r="2.12"/><circle cx="905.35" cy="622.97" r="2.12"/><circle cx="905.35" cy="628.74" r="2.12"/><circle cx="905.35" cy="634.51" r="2.12"/><circle cx="911.02" cy="634.51" r="2.12"/><circle cx="1031.35" cy="634.51" r="2.12"/><circle cx="1037.02" cy="617.20" r="2.12"/><circle cx="1037.02" cy="622.97" r="2.12"/><circle cx="1037.02" cy="628.74" r="2.12"/><circle cx="1037.02" cy="634.51" r="2.12"/><circle cx="1045.35" cy="617.20" r="2.12"/><circle cx="491.02" cy="651.20" r="2.12"/><circle cx="491.02" cy="656.97" r="2.12"/><circle cx="491.02" cy="662.74" r="2.12"/><circle cx="499.35" cy="662.74" r="2.12"/><circle cx="499.35" cy="668.51" r="2.12"/><circle cx="611.35" cy="651.20" r="2.12"/><circle cx="611.35" cy="656.97" r="2.12"/><circle cx="611.35" cy="662.74" r="2.12"/><circle cx="911.02" cy="651.20" r="2.12"/><circle cx="911.02" cy="656.97" r="2.12"/><circle cx="911.02" cy="662.74" r="2.12"/><circle cx="919.35" cy="662.74" r="2.12"/><circle cx="919.35" cy="668.51" r="2.12"/><circle cx="1031.35" cy="651.20" r="2.12"/><circle cx="1031.35" cy="656.97" r="2.12"/><circle cx="1031.35" cy="662.74" r="2.12"/><circle cx="499.35" cy="685.20" r="2.12"/><circle cx="499.35" cy="690.97" r="2.12"/><circle cx="505.02" cy="690.97" r="2.12"/><circle cx="505.02" cy="696.74" r="2.12"/><circle cx="505.02" cy="702.51" r="2.12"/><circle cx="919.35" cy="685.20" r="2.12"/><circle cx="919.35" cy="690.97" r="2.12"/><circle cx="925.02" cy="690.97" r="2.12"/><circle cx="925.02" cy="696.74" r="2.12"/><circle cx="925.02" cy="702.51" r="2.12"/><circle cx="505.02" cy="719.20" r="2.12"/><circle cx="513.35" cy="719.20" r="2.12"/><circle cx="513.35" cy="724.97" r="2.12"/><circle cx="513.35" cy="730.74" r="2.12"/><circle cx="519.02" cy="730.74" r="2.12"/><circle cx="519.02" cy="736.51" r="2.12"/><circle cx="583.35" cy="730.74" r="2.12"/><circle cx="583.35" cy="736.51" r="2.12"/><circle cx="589.02" cy="719.20" r="2.12"/><circle cx="589.02" cy="724.97" r="2.12"/><circle cx="589.02" cy="730.74" r="2.12"/><circle cx="597.35" cy="719.20" r="2.12"/><circle cx="925.02" cy="719.20" r="2.12"/><circle cx="933.35" cy="719.20" r="2.12"/><circle cx="933.35" cy="724.97" r="2.12"/><circle cx="933.35" cy="730.74" r="2.12"/><circle cx="939.02" cy="730.74" r="2.12"/><circle cx="939.02" cy="736.51" r="2.12"/><circle cx="1003.35" cy="730.74" r="2.12"/><circle cx="1003.35" cy="736.51" r="2.12"/><circle cx="1009.02" cy="719.20" r="2.12"/><circle cx="1009.02" cy="724.97" r="2.12"/><circle cx="1009.02" cy="730.74" r="2.12"/><circle cx="1017.35" cy="719.20" r="2.12"/><circle cx="519.02" cy="753.20" r="2.12"/><circle cx="527.35" cy="753.20" r="2.12"/><circle cx="527.35" cy="758.97" r="2.12"/><circle cx="533.02" cy="764.74" r="2.12"/><circle cx="533.02" cy="770.51" r="2.12"/><circle cx="541.35" cy="770.51" r="2.12"/><circle cx="547.02" cy="770.51" r="2.12"/><circle cx="555.35" cy="770.51" r="2.12"/><circle cx="561.02" cy="770.51" r="2.12"/><circle cx="569.35" cy="764.74" r="2.12"/><circle cx="569.35" cy="770.51" r="2.12"/><circle cx="575.02" cy="753.20" r="2.12"/><circle cx="575.02" cy="758.97" r="2.12"/><circle cx="583.35" cy="753.20" r="2.12"/><circle cx="939.02" cy="753.20" r="2.12"/><circle cx="947.35" cy="753.20" r="2.12"/><circle cx="947.35" cy="758.97" r="2.12"/><circle cx="953.02" cy="764.74" r="2.12"/><circle cx="953.02" cy="770.51" r="2.12"/><circle cx="961.35" cy="770.51" r="2.12"/><circle cx="967.02" cy="770.51" r="2.12"/><circle cx="975.35" cy="770.51" r="2.12"/><circle cx="981.02" cy="770.51" r="2.12"/><circle cx="989.35" cy="764.74" r="2.12"/><circle cx="989.35" cy="770.51" r="2.12"/><circle cx="995.02" cy="753.20" r="2.12"/><circle cx="995.02" cy="758.97" r="2.12"/><circle cx="995.02" cy="764.74" r="2.12"/><circle cx="1003.35" cy="753.20" r="2.12"/></g><g fill="#ff77ff"><circle cx="387.35" cy="175.20" r="2.12"/><circle cx="387.35" cy="180.97" r="2.12"/><circle cx="387.35" cy="186.74" r="2.12"/><circle cx="393.02" cy="186.74" r="2.12"/><circle cx="393.02" cy="192.51" r="2.12"/><circle cx="807.35" cy="175.20" r="2.12"/><circle cx="807.35" cy="180.97" r="2.12"/><circle cx="807.35" cy="186.74" r="2.12"/><circle cx="813.02" cy="186.74" r="2.12"/><circle cx="813.02" cy="192.51" r="2.12"/><circle cx="387.35" cy="214.97" r="2.12"/><circle cx="387.35" cy="220.74" r="2.12"/><circle cx="387.35" cy="226.51" r="2.12"/><circle cx="393.02" cy="209.20" r="2.12"/><circle cx="393.02" cy="214.97" r="2.12"/><circle cx="807.35" cy="214.97" r="2.12"/><circle cx="807.35" cy="220.74" r="2.12"/><circle cx="807.35" cy="226.51" r="2.12"/><circle cx="813.02" cy="209.20" r="2.12"/><circle cx="813.02" cy="214.97" r="2.12"/><circle cx="597.35" cy="651.20" r="2.12"/><circle cx="597.35" cy="656.97" r="2.12"/><circle cx="597.35" cy="662.74" r="2.12"/><circle cx="603.02" cy="662.74" r="2.12"/><circle cx="603.02" cy="668.51" r="2.12"/><circle cx="1017.35" cy="651.20" r="2.12"/><circle cx="1017.35" cy="656.97" r="2.12"/><circle cx="1017.35" cy="662.74" r="2.12"/><circle cx="1023.02" cy="662.74" r="2.12"/><circle cx="1023.02" cy="668.51" r="2.12"/><circle cx="597.35" cy="690.97" r="2.12"/><circle cx="597.35" cy="696.74" r="2.12"/><circle cx="597.35" cy="702.51" r="2.12"/><circle cx="603.02" cy="685.20" r="2.12"/><circle cx="603.02" cy="690.97" r="2.12"/><circle cx="1017.35" cy="690.97" r="2.12"/><circle cx="1017.35" cy="696.74" r="2.12"/><circle cx="1017.35" cy="702.51" r="2.12"/><circle cx="1023.02" cy="685.20" r="2.12"/><circle cx="1023.02" cy="690.97" r="2.12"/></g><g fill="#d0d0d0"><rect x="331.7" y="78" width="857.0" height="3"/><rect x="331.7" y="792" width="857.0" height="3"/><rect x="331.7" y="78" width="3" height="12.7"/><rect x="331.7" y="783" width="3" height="12"/><rect x="331.7" y="103" width="3" height="21.7"/><rect x="331.7" y="137" width="3" height="21.7"/><rect x="331.7" y="171" width="3" height="21.7"/><rect x="331.7" y="205" width="3" height="21.7"/><rect x="331.7" y="239" width="3" height="21.7"/><rect x="331.7" y="273" width="3" height="21.7"/><rect x="331.7" y="307" width="3" height="21.7"/><rect x="331.7" y="341" width="3" height="21.7"/><rect x="331.7" y="375" width="3" height="21.7"/><rect x="331.7" y="409" width="3" height="21.7"/><rect x="331.7" y="443" width="3" height="21.7"/><rect x="331.7" y="477" width="3" height="21.7"/><rect x="331.7" y="511" width="3" height="21.7"/><rect x="331.7" y="545" width="3" height="21.7"/><rect x="331.7" y="579" width="3" height="21.7"/><rect x="331.7" y="613" width="3" height="21.7"/><rect x="331.7" y="647" width="3" height="21.7"/><rect x="331.7" y="681" width="3" height="21.7"/><rect x="331.7" y="715" width="3" height="21.7"/><rect x="331.7" y="749" width="3" height="21.7"/><rect x="1185.7" y="78" width="3" height="12.7"/><rect x="1185.7" y="783" width="3" height="12"/><rect x="1185.7" y="103" width="3" height="21.7"/><rect x="1185.7" y="137" width="3" height="21.7"/><rect x="1185.7" y="171" width="3" height="21.7"/><rect x="1185.7" y="205" width="3" height="21.7"/><rect x="1185.7" y="239" width="3" height="21.7"/><rect x="1185.7" y="273" width="3" height="21.7"/><rect x="1185.7" y="307" width="3" height="21.7"/><rect x="1185.7" y="341" width="3" height="21.7"/><rect x="1185.7" y="375" width="3" height="21.7"/><rect x="1185.7" y="409" width="3" height="21.7"/><rect x="1185.7" y="443" width="3" height="21.7"/><rect x="1185.7" y="477" width="3" height="21.7"/><rect x="1185.7" y="511" width="3" height="21.7"/><rect x="1185.7" y="545" width="3" height="21.7"/><rect x="1185.7" y="579" width="3" height="21.7"/><rect x="1185.7" y="613" width="3" height="21.7"/><rect x="1185.7" y="647" width="3" height="21.7"/><rect x="1185.7" y="681" width="3" height="21.7"/><rect x="1185.7" y="715" width="3" height="21.7"/><rect x="1185.7" y="749" width="3" height="21.7"/></g></svg>
<div class="t" style="left:297.20px;top:97.00px">1</div>
<div class="t" style="left:45.20px;top:743.00px"><span class="h">-</span>0.9999987317275395</div>
<div class="t" style="left:325.20px;top:811.00px">0</div>
<div class="t" style="left:1123.20px;top:811.00px">12.56</div>
<div class="t" style="left:1207.20px;top:97.00px;color:#6871ff">y<span class="u">_</span>1</div>
<div class="t" style="left:1207.20px;top:131.00px;color:#ff6e67">y<span class="u">_</span>2</div>
</body></html>
